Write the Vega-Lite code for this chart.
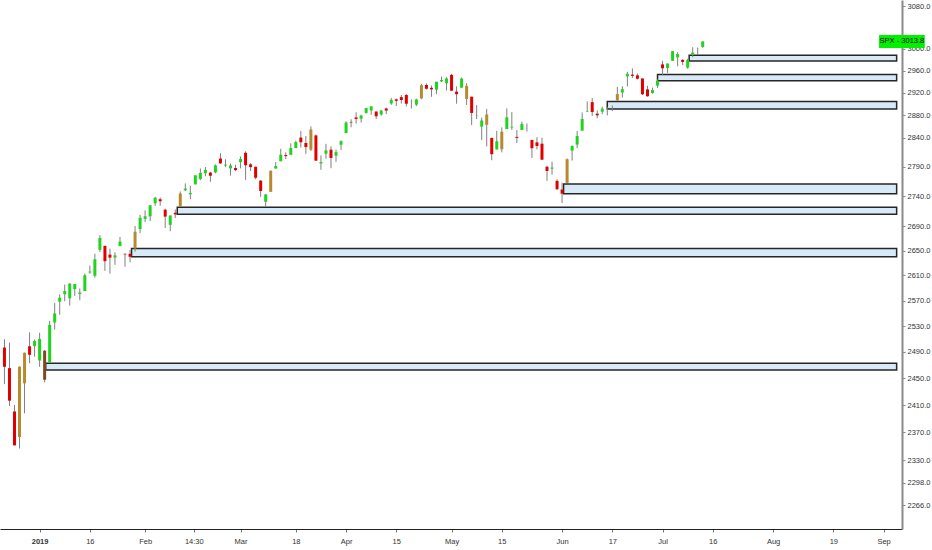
{
  "$schema": "https://vega.github.io/schema/vega-lite/v6.json",
  "width": 902,
  "height": 529,
  "autosize": {"type": "none"},
  "padding": {"left": 0, "top": 0, "right": 30, "bottom": 21},
  "background": "white",
  "config": {"view": {"stroke": null}, "font": "Liberation Sans"},
  "datasets": {
    "candles": [
      {"t":-7,"d":"2018-12-20","o":2496.77,"h":2509.63,"l":2441.18,"c":2467.42,"k":"dn"},
      {"t":-6,"d":"2018-12-21","o":2465.38,"h":2504.41,"l":2408.55,"c":2416.62,"k":"dn"},
      {"t":-5,"d":"2018-12-24","o":2400.56,"h":2410.34,"l":2351.10,"c":2351.10,"k":"dn"},
      {"t":-4,"d":"2018-12-26","o":2363.12,"h":2467.76,"l":2346.58,"c":2467.70,"k":"big"},
      {"t":-3,"d":"2018-12-27","o":2442.50,"h":2489.10,"l":2397.94,"c":2488.83,"k":"big"},
      {"t":-2,"d":"2018-12-28","o":2498.77,"h":2520.27,"l":2472.89,"c":2485.74,"k":"dn"},
      {"t":-1,"d":"2018-12-31","o":2498.94,"h":2509.24,"l":2482.82,"c":2506.85,"k":"up"},
      {"t":0,"d":"2019-01-02","o":2476.96,"h":2519.49,"l":2467.47,"c":2510.03,"k":"up"},
      {"t":1,"d":"2019-01-03","o":2491.92,"h":2493.14,"l":2443.96,"c":2447.89,"k":"brn"},
      {"t":2,"d":"2019-01-04","o":2474.33,"h":2538.07,"l":2474.33,"c":2531.94,"k":"up"},
      {"t":3,"d":"2019-01-07","o":2535.61,"h":2566.16,"l":2524.56,"c":2549.69,"k":"up"},
      {"t":4,"d":"2019-01-08","o":2568.11,"h":2579.82,"l":2547.56,"c":2574.41,"k":"up"},
      {"t":5,"d":"2019-01-09","o":2580.00,"h":2595.32,"l":2568.89,"c":2584.96,"k":"up"},
      {"t":6,"d":"2019-01-10","o":2573.51,"h":2597.82,"l":2562.02,"c":2596.64,"k":"up"},
      {"t":7,"d":"2019-01-11","o":2588.11,"h":2596.27,"l":2577.40,"c":2596.26,"k":"up"},
      {"t":8,"d":"2019-01-14","o":2580.31,"h":2589.32,"l":2570.41,"c":2582.61,"k":"up"},
      {"t":9,"d":"2019-01-15","o":2585.10,"h":2613.08,"l":2585.10,"c":2610.30,"k":"up"},
      {"t":10,"d":"2019-01-16","o":2614.75,"h":2625.76,"l":2612.68,"c":2616.10,"k":"up"},
      {"t":11,"d":"2019-01-17","o":2609.28,"h":2645.06,"l":2606.36,"c":2635.96,"k":"up"},
      {"t":12,"d":"2019-01-18","o":2651.27,"h":2675.47,"l":2647.58,"c":2670.71,"k":"up"},
      {"t":13,"d":"2019-01-22","o":2657.88,"h":2657.88,"l":2617.27,"c":2632.90,"k":"dn"},
      {"t":14,"d":"2019-01-23","o":2643.48,"h":2653.19,"l":2612.86,"c":2638.70,"k":"dn"},
      {"t":15,"d":"2019-01-24","o":2638.84,"h":2647.20,"l":2627.01,"c":2642.33,"k":"up"},
      {"t":16,"d":"2019-01-25","o":2657.44,"h":2672.38,"l":2657.33,"c":2664.76,"k":"up"},
      {"t":17,"d":"2019-01-28","o":2644.97,"h":2644.97,"l":2624.06,"c":2643.85,"k":"dn"},
      {"t":18,"d":"2019-01-29","o":2644.89,"h":2650.93,"l":2631.05,"c":2640.00,"k":"dn"},
      {"t":19,"d":"2019-01-30","o":2653.62,"h":2690.44,"l":2648.34,"c":2681.05,"k":"big"},
      {"t":20,"d":"2019-01-31","o":2685.49,"h":2708.95,"l":2678.65,"c":2704.10,"k":"up"},
      {"t":21,"d":"2019-02-01","o":2702.32,"h":2716.66,"l":2696.88,"c":2706.53,"k":"up"},
      {"t":22,"d":"2019-02-04","o":2706.49,"h":2724.99,"l":2698.75,"c":2724.87,"k":"up"},
      {"t":23,"d":"2019-02-05","o":2728.34,"h":2738.98,"l":2724.03,"c":2737.70,"k":"up"},
      {"t":24,"d":"2019-02-06","o":2735.05,"h":2738.08,"l":2724.15,"c":2731.61,"k":"dn"},
      {"t":25,"d":"2019-02-07","o":2717.53,"h":2719.32,"l":2687.26,"c":2706.05,"k":"dn"},
      {"t":26,"d":"2019-02-08","o":2692.36,"h":2708.07,"l":2681.83,"c":2707.88,"k":"up"},
      {"t":27,"d":"2019-02-11","o":2712.40,"h":2718.05,"l":2703.79,"c":2709.80,"k":"dn"},
      {"t":28,"d":"2019-02-12","o":2722.61,"h":2748.19,"l":2722.61,"c":2744.73,"k":"big"},
      {"t":29,"d":"2019-02-13","o":2750.30,"h":2761.85,"l":2748.63,"c":2753.03,"k":"up"},
      {"t":30,"d":"2019-02-14","o":2743.50,"h":2757.90,"l":2735.01,"c":2745.73,"k":"up"},
      {"t":31,"d":"2019-02-15","o":2760.24,"h":2775.66,"l":2760.24,"c":2775.60,"k":"up"},
      {"t":32,"d":"2019-02-19","o":2769.28,"h":2787.33,"l":2767.29,"c":2779.76,"k":"up"},
      {"t":33,"d":"2019-02-20","o":2779.05,"h":2789.88,"l":2774.06,"c":2784.70,"k":"up"},
      {"t":34,"d":"2019-02-21","o":2780.24,"h":2781.58,"l":2764.55,"c":2774.88,"k":"dn"},
      {"t":35,"d":"2019-02-22","o":2780.67,"h":2794.20,"l":2779.11,"c":2792.67,"k":"up"},
      {"t":36,"d":"2019-02-25","o":2804.35,"h":2813.49,"l":2794.99,"c":2796.11,"k":"dn"},
      {"t":37,"d":"2019-02-26","o":2792.36,"h":2803.12,"l":2789.47,"c":2793.90,"k":"up"},
      {"t":38,"d":"2019-02-27","o":2787.50,"h":2795.76,"l":2775.13,"c":2792.38,"k":"up"},
      {"t":39,"d":"2019-02-28","o":2788.11,"h":2793.73,"l":2782.51,"c":2784.49,"k":"dn"},
      {"t":40,"d":"2019-03-01","o":2798.22,"h":2808.02,"l":2787.38,"c":2803.69,"k":"up"},
      {"t":41,"d":"2019-03-04","o":2814.37,"h":2816.88,"l":2767.66,"c":2792.81,"k":"dn"},
      {"t":42,"d":"2019-03-05","o":2794.41,"h":2796.44,"l":2782.97,"c":2789.65,"k":"dn"},
      {"t":43,"d":"2019-03-06","o":2790.27,"h":2790.27,"l":2768.69,"c":2771.45,"k":"dn"},
      {"t":44,"d":"2019-03-07","o":2766.53,"h":2767.25,"l":2739.09,"c":2748.93,"k":"dn"},
      {"t":45,"d":"2019-03-08","o":2730.79,"h":2744.13,"l":2722.27,"c":2743.07,"k":"up"},
      {"t":46,"d":"2019-03-11","o":2747.61,"h":2784.00,"l":2747.61,"c":2783.30,"k":"big"},
      {"t":47,"d":"2019-03-12","o":2787.34,"h":2798.32,"l":2786.73,"c":2791.52,"k":"up"},
      {"t":48,"d":"2019-03-13","o":2799.78,"h":2821.24,"l":2799.78,"c":2810.92,"k":"up"},
      {"t":49,"d":"2019-03-14","o":2810.38,"h":2815.00,"l":2803.46,"c":2808.48,"k":"dn"},
      {"t":50,"d":"2019-03-15","o":2810.79,"h":2830.73,"l":2810.79,"c":2822.48,"k":"up"},
      {"t":51,"d":"2019-03-18","o":2822.61,"h":2835.41,"l":2821.99,"c":2832.94,"k":"up"},
      {"t":52,"d":"2019-03-19","o":2840.76,"h":2852.42,"l":2823.27,"c":2832.57,"k":"dn"},
      {"t":53,"d":"2019-03-20","o":2831.34,"h":2843.54,"l":2812.43,"c":2824.23,"k":"dn"},
      {"t":54,"d":"2019-03-21","o":2819.72,"h":2860.31,"l":2817.38,"c":2854.88,"k":"big"},
      {"t":55,"d":"2019-03-22","o":2844.52,"h":2846.16,"l":2800.47,"c":2800.71,"k":"dn"},
      {"t":56,"d":"2019-03-25","o":2796.01,"h":2809.79,"l":2785.02,"c":2798.36,"k":"up"},
      {"t":57,"d":"2019-03-26","o":2812.66,"h":2829.87,"l":2803.99,"c":2818.46,"k":"up"},
      {"t":58,"d":"2019-03-27","o":2819.72,"h":2825.56,"l":2787.72,"c":2805.37,"k":"dn"},
      {"t":59,"d":"2019-03-28","o":2809.40,"h":2819.71,"l":2798.77,"c":2815.44,"k":"up"},
      {"t":60,"d":"2019-03-29","o":2828.27,"h":2836.03,"l":2819.23,"c":2834.40,"k":"up"},
      {"t":61,"d":"2019-04-01","o":2848.63,"h":2869.40,"l":2848.63,"c":2867.19,"k":"up"},
      {"t":62,"d":"2019-04-02","o":2868.24,"h":2872.90,"l":2858.75,"c":2867.24,"k":"dn"},
      {"t":63,"d":"2019-04-03","o":2876.09,"h":2885.25,"l":2865.17,"c":2873.40,"k":"dn"},
      {"t":64,"d":"2019-04-04","o":2873.99,"h":2881.28,"l":2867.14,"c":2879.39,"k":"up"},
      {"t":65,"d":"2019-04-05","o":2884.16,"h":2893.24,"l":2882.99,"c":2892.74,"k":"up"},
      {"t":66,"d":"2019-04-08","o":2888.46,"h":2895.95,"l":2880.78,"c":2895.77,"k":"up"},
      {"t":67,"d":"2019-04-09","o":2886.58,"h":2886.88,"l":2873.33,"c":2878.20,"k":"dn"},
      {"t":68,"d":"2019-04-10","o":2881.37,"h":2889.71,"l":2879.13,"c":2888.21,"k":"up"},
      {"t":69,"d":"2019-04-11","o":2891.92,"h":2893.42,"l":2881.99,"c":2888.32,"k":"dn"},
      {"t":70,"d":"2019-04-12","o":2900.86,"h":2910.54,"l":2898.37,"c":2907.41,"k":"up"},
      {"t":71,"d":"2019-04-15","o":2908.32,"h":2909.60,"l":2896.48,"c":2905.58,"k":"dn"},
      {"t":72,"d":"2019-04-16","o":2912.26,"h":2916.06,"l":2900.71,"c":2907.06,"k":"dn"},
      {"t":73,"d":"2019-04-17","o":2916.04,"h":2918.00,"l":2895.45,"c":2900.45,"k":"dn"},
      {"t":74,"d":"2019-04-18","o":2904.81,"h":2908.40,"l":2891.90,"c":2905.03,"k":"up"},
      {"t":75,"d":"2019-04-22","o":2898.78,"h":2909.51,"l":2896.35,"c":2907.97,"k":"up"},
      {"t":76,"d":"2019-04-23","o":2909.99,"h":2936.31,"l":2908.53,"c":2933.68,"k":"big"},
      {"t":77,"d":"2019-04-24","o":2934.00,"h":2936.83,"l":2926.05,"c":2927.25,"k":"dn"},
      {"t":78,"d":"2019-04-25","o":2928.99,"h":2933.10,"l":2912.84,"c":2926.17,"k":"dn"},
      {"t":79,"d":"2019-04-26","o":2925.81,"h":2939.88,"l":2917.56,"c":2939.88,"k":"up"},
      {"t":80,"d":"2019-04-29","o":2940.58,"h":2949.52,"l":2939.35,"c":2943.03,"k":"up"},
      {"t":81,"d":"2019-04-30","o":2937.14,"h":2948.22,"l":2924.11,"c":2945.83,"k":"up"},
      {"t":82,"d":"2019-05-01","o":2952.33,"h":2954.13,"l":2923.36,"c":2923.73,"k":"dn"},
      {"t":83,"d":"2019-05-02","o":2922.16,"h":2931.68,"l":2900.50,"c":2917.52,"k":"dn"},
      {"t":84,"d":"2019-05-03","o":2929.21,"h":2947.85,"l":2929.21,"c":2945.64,"k":"up"},
      {"t":85,"d":"2019-05-06","o":2908.89,"h":2937.32,"l":2898.21,"c":2932.47,"k":"big"},
      {"t":86,"d":"2019-05-07","o":2913.03,"h":2913.03,"l":2862.60,"c":2884.05,"k":"dn"},
      {"t":87,"d":"2019-05-08","o":2879.61,"h":2897.96,"l":2873.28,"c":2879.42,"k":"dn"},
      {"t":88,"d":"2019-05-09","o":2859.84,"h":2875.97,"l":2836.40,"c":2870.72,"k":"up"},
      {"t":89,"d":"2019-05-10","o":2863.10,"h":2891.31,"l":2825.39,"c":2881.40,"k":"big"},
      {"t":90,"d":"2019-05-13","o":2840.19,"h":2840.19,"l":2801.43,"c":2811.87,"k":"dn"},
      {"t":91,"d":"2019-05-14","o":2820.12,"h":2852.54,"l":2820.12,"c":2834.41,"k":"up"},
      {"t":92,"d":"2019-05-15","o":2820.38,"h":2858.68,"l":2815.08,"c":2850.96,"k":"big"},
      {"t":93,"d":"2019-05-16","o":2855.80,"h":2892.15,"l":2855.80,"c":2876.32,"k":"up"},
      {"t":94,"d":"2019-05-17","o":2858.60,"h":2885.48,"l":2854.23,"c":2859.53,"k":"up"},
      {"t":95,"d":"2019-05-20","o":2841.94,"h":2853.86,"l":2831.29,"c":2840.23,"k":"dn"},
      {"t":96,"d":"2019-05-21","o":2854.02,"h":2868.88,"l":2854.02,"c":2864.36,"k":"up"},
      {"t":97,"d":"2019-05-22","o":2856.06,"h":2865.47,"l":2851.11,"c":2856.27,"k":"up"},
      {"t":98,"d":"2019-05-23","o":2836.70,"h":2836.70,"l":2805.49,"c":2822.24,"k":"dn"},
      {"t":99,"d":"2019-05-24","o":2832.41,"h":2841.36,"l":2820.19,"c":2826.06,"k":"dn"},
      {"t":100,"d":"2019-05-28","o":2830.03,"h":2840.51,"l":2801.58,"c":2802.39,"k":"dn"},
      {"t":101,"d":"2019-05-29","o":2790.25,"h":2792.03,"l":2766.06,"c":2783.02,"k":"dn"},
      {"t":102,"d":"2019-05-30","o":2786.94,"h":2799.00,"l":2776.74,"c":2788.86,"k":"up"},
      {"t":103,"d":"2019-05-31","o":2766.15,"h":2768.98,"l":2750.52,"c":2752.06,"k":"dn"},
      {"t":104,"d":"2019-06-03","o":2751.53,"h":2763.07,"l":2728.81,"c":2744.45,"k":"dn"},
      {"t":105,"d":"2019-06-04","o":2762.64,"h":2804.49,"l":2762.64,"c":2803.27,"k":"big"},
      {"t":106,"d":"2019-06-05","o":2818.09,"h":2827.28,"l":2800.92,"c":2826.15,"k":"up"},
      {"t":107,"d":"2019-06-06","o":2828.51,"h":2852.10,"l":2822.45,"c":2843.49,"k":"up"},
      {"t":108,"d":"2019-06-07","o":2852.87,"h":2884.97,"l":2852.87,"c":2873.34,"k":"up"},
      {"t":109,"d":"2019-06-10","o":2885.83,"h":2904.77,"l":2885.51,"c":2886.73,"k":"up"},
      {"t":110,"d":"2019-06-11","o":2903.27,"h":2910.61,"l":2878.53,"c":2885.72,"k":"dn"},
      {"t":111,"d":"2019-06-12","o":2882.73,"h":2888.57,"l":2874.68,"c":2879.84,"k":"dn"},
      {"t":112,"d":"2019-06-13","o":2886.24,"h":2895.24,"l":2881.99,"c":2891.64,"k":"up"},
      {"t":113,"d":"2019-06-14","o":2886.82,"h":2894.45,"l":2879.62,"c":2886.98,"k":"up"},
      {"t":114,"d":"2019-06-17","o":2889.75,"h":2897.27,"l":2887.30,"c":2889.67,"k":"dn"},
      {"t":115,"d":"2019-06-18","o":2906.71,"h":2930.79,"l":2905.44,"c":2917.75,"k":"big"},
      {"t":116,"d":"2019-06-19","o":2920.55,"h":2931.74,"l":2911.43,"c":2926.46,"k":"up"},
      {"t":117,"d":"2019-06-20","o":2949.60,"h":2958.06,"l":2931.50,"c":2954.18,"k":"up"},
      {"t":118,"d":"2019-06-21","o":2952.71,"h":2964.15,"l":2946.87,"c":2950.46,"k":"dn"},
      {"t":119,"d":"2019-06-24","o":2951.42,"h":2954.92,"l":2944.05,"c":2945.35,"k":"dn"},
      {"t":120,"d":"2019-06-25","o":2945.78,"h":2946.52,"l":2916.01,"c":2917.38,"k":"dn"},
      {"t":121,"d":"2019-06-26","o":2926.07,"h":2932.59,"l":2912.99,"c":2913.78,"k":"dn"},
      {"t":122,"d":"2019-06-27","o":2919.66,"h":2929.30,"l":2918.57,"c":2924.92,"k":"up"},
      {"t":123,"d":"2019-06-28","o":2932.94,"h":2943.98,"l":2929.05,"c":2941.76,"k":"up"},
      {"t":124,"d":"2019-07-01","o":2971.41,"h":2977.93,"l":2952.22,"c":2964.33,"k":"dn"},
      {"t":125,"d":"2019-07-02","o":2964.66,"h":2973.21,"l":2955.92,"c":2973.01,"k":"up"},
      {"t":126,"d":"2019-07-03","o":2978.08,"h":2995.84,"l":2977.96,"c":2995.82,"k":"up"},
      {"t":127,"d":"2019-07-05","o":2984.25,"h":2994.03,"l":2967.97,"c":2990.41,"k":"up"},
      {"t":128,"d":"2019-07-08","o":2979.77,"h":2980.76,"l":2970.09,"c":2975.95,"k":"dn"},
      {"t":129,"d":"2019-07-09","o":2965.52,"h":2981.90,"l":2963.44,"c":2979.63,"k":"up"},
      {"t":130,"d":"2019-07-10","o":2989.30,"h":3002.98,"l":2984.62,"c":2993.07,"k":"up"},
      {"t":131,"d":"2019-07-11","o":2999.62,"h":3002.33,"l":2988.80,"c":2999.91,"k":"up"},
      {"t":132,"d":"2019-07-12","o":3003.36,"h":3013.92,"l":3001.87,"c":3013.77,"k":"up"}
    ],
    "zones": [
      {"t":1.2,"t2":170.6,"l":2462.5,"h":2473.0},
      {"t":18.3,"t2":170.6,"l":2640.0,"h":2653.6},
      {"t":27.4,"t2":170.6,"l":2709.8,"h":2721.5},
      {"t":104.3,"t2":170.6,"l":2744.4,"h":2761.0},
      {"t":113.0,"t2":170.6,"l":2891.0,"h":2904.5},
      {"t":123.0,"t2":170.6,"l":2941.5,"h":2953.0},
      {"t":129.3,"t2":170.6,"l":2977.5,"h":2988.0}
    ],
    "tag": [
      {"t":167.1,"t2":176.2,"tc":171.65,"l":3001.5,"h":3025.6,"p":3013.8,"label":"SPX - 3013.8"}
    ]
  },
  "encoding": {
    "x": {
      "field": "t", "type": "quantitative",
      "scale": {"domain": [-6.89, 170.67], "nice": false, "zero": false},
      "axis": {
        "title": null, "grid": false,
        "values": [0, 10, 21, 30.7, 40, 51, 61, 71, 82, 92, 104, 114, 124, 134, 146, 158, 168],
        "labelExpr": "['2019','16','Feb','14:30','Mar','18','Apr','15','May','15','Jun','17','Jul','16','Aug','19','Sep'][indexof([0,10,21,30.7,40,51,61,71,82,92,104,114,124,134,146,158,168], datum.value)]",
        "labelFontWeight": {"condition": {"test": "datum.value == 0", "value": "bold"}, "value": "normal"},
        "domainColor": "#222222", "domainWidth": 1,
        "tickColor": "#777777", "tickSize": 3,
        "labelFontSize": 7.5, "labelColor": "#333333", "labelPadding": 5,
        "labelFlush": false, "labelOverlap": false
      }
    },
    "y": {
      "field": "l", "type": "quantitative",
      "scale": {"type": "log", "domain": [2233.3, 3091.4], "nice": false},
      "axis": {
        "orient": "right", "title": null, "grid": false,
        "values": [2266, 2298, 2330, 2370, 2410, 2450, 2490, 2530, 2570, 2610, 2650, 2690, 2740, 2790, 2840, 2880, 2920, 2960, 3000, 3080],
        "format": ".1f",
        "domainColor": "#8a8a8a", "domainWidth": 2,
        "tickColor": "#8a8a8a", "tickSize": 3,
        "labelFontSize": 7.5, "labelColor": "#333333", "labelPadding": 2,
        "labelFlush": false, "labelOverlap": false
      }
    }
  },
  "layer": [
    {
      "data": {"name": "zones"},
      "mark": {"type": "rect", "fill": "#d8e9f8", "stroke": "#262626", "strokeWidth": 1.5},
      "encoding": {
        "x2": {"field": "t2"},
        "y2": {"field": "h"}
      }
    },
    {
      "data": {"name": "candles"},
      "mark": {"type": "rule", "color": "#808080", "strokeWidth": 1},
      "encoding": {
        "y2": {"field": "h"}
      }
    },
    {
      "data": {"name": "candles"},
      "mark": {"type": "bar", "width": 3},
      "encoding": {
        "y": {
          "field": "o", "type": "quantitative",
          "scale": {"type": "log", "domain": [2233.3, 3091.4], "nice": false}
        },
        "y2": {"field": "c"},
        "color": {
          "field": "k", "type": "nominal", "legend": null,
          "scale": {"domain": ["up", "dn", "big", "brn"], "range": ["#1fd41f", "#e00000", "#b8892e", "#7a4a20"]}
        }
      }
    },
    {
      "data": {"name": "tag"},
      "mark": {"type": "rect", "fill": "#00f000"},
      "encoding": {
        "x2": {"field": "t2"},
        "y2": {"field": "h"}
      }
    },
    {
      "data": {"name": "tag"},
      "mark": {"type": "text", "fontSize": 7.5, "color": "#000000", "align": "center", "baseline": "middle"},
      "encoding": {
        "x": {"field": "tc", "type": "quantitative", "scale": {"domain": [-6.89, 170.67], "nice": false, "zero": false}},
        "y": {"field": "p", "type": "quantitative", "scale": {"type": "log", "domain": [2233.3, 3091.4], "nice": false}},
        "text": {"field": "label"}
      }
    }
  ]
}
